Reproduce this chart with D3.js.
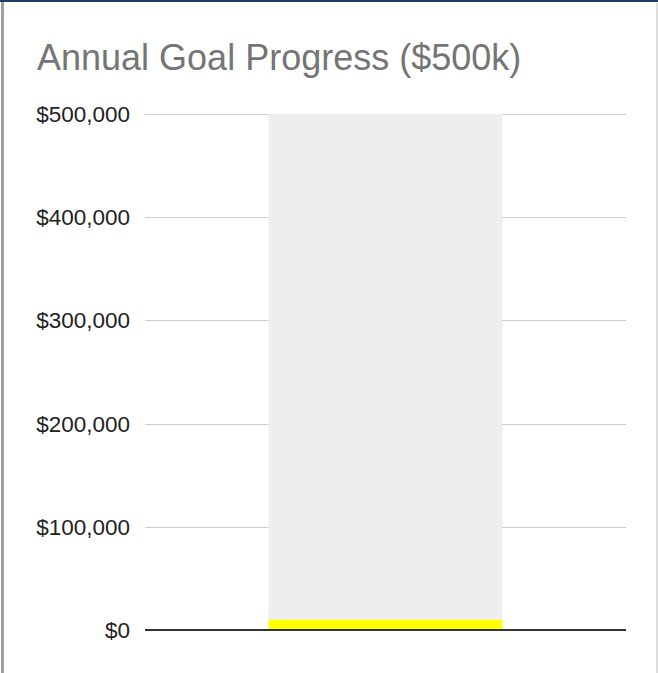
<!DOCTYPE html>
<html>
<head>
<meta charset="utf-8">
<script src="https://cdn.jsdelivr.net/npm/d3@7"></script>
<style>
  body { margin: 0; background: #fff; }
  svg { display: block; font-family: "Liberation Sans", Arial, sans-serif; }
</style>
</head>
<body>
<svg id="chart"></svg>
<script>
// Chart data
const categories = ["Annual Goal"];
const raisedValues = [10000];
const remainingValues = [490000];
const goal = 500000;
const tickValues = [0, 100000, 200000, 300000, 400000, 500000];

const width = 658, height = 673;
const margin = { top: 114, right: 32, bottom: 43, left: 145 };

const svg = d3.select("#chart").attr("width", width).attr("height", height);

// Frame borders
svg.append("rect").attr("x", 0).attr("y", 0).attr("width", width).attr("height", 2).attr("fill", "#1c3f63");
svg.append("rect").attr("x", 1).attr("y", 2).attr("width", 3).attr("height", height - 2).attr("fill", "#a0a0a0");
svg.append("rect").attr("x", 656).attr("y", 3).attr("width", 2).attr("height", height - 3).attr("fill", "#dddddd");

// Title
svg.append("text")
    .attr("x", 37)
    .attr("y", 70)
    .attr("font-size", "36px")
    .attr("fill", "#757575")
    .text("Annual Goal Progress ($500k)");

// Scales
const x = d3.scaleBand()
    .domain(categories)
    .range([margin.left, width - margin.right])
    .paddingInner(0)
    .paddingOuter(0.528);
const y = d3.scaleLinear().domain([0, goal]).range([height - margin.bottom, margin.top]);

// Gridlines
svg.append("g")
    .selectAll("line")
    .data(tickValues.filter((d) => d > 0))
    .enter()
    .append("line")
    .attr("x1", margin.left)
    .attr("x2", width - margin.right)
    .attr("y1", (d) => Math.round(y(d)) + 0.5)
    .attr("y2", (d) => Math.round(y(d)) + 0.5)
    .attr("stroke", "#cccccc");

// Y axis labels
const fmt = d3.format("$,.0f");
svg.append("g")
    .selectAll("text")
    .data(tickValues)
    .enter()
    .append("text")
    .attr("x", 130)
    .attr("y", (d) => y(d) + 8)
    .attr("text-anchor", "end")
    .attr("font-size", "22.5px")
    .attr("fill", "#222222")
    .text((d) => fmt(d));

// Stacked bars: raised (yellow) + remaining (light gray)
const stacked = categories.map((c, i) => ({ cat: c, raised: raisedValues[i], remaining: remainingValues[i] }));

svg.append("g")
    .selectAll("rect.remaining")
    .data(stacked)
    .enter()
    .append("rect")
    .attr("class", "remaining")
    .attr("x", (d) => x(d.cat))
    .attr("width", x.bandwidth())
    .attr("y", (d) => y(d.raised + d.remaining))
    .attr("height", (d) => y(d.raised) - y(d.raised + d.remaining))
    .attr("fill", "#eeeeee");

svg.append("g")
    .selectAll("rect.raised")
    .data(stacked)
    .enter()
    .append("rect")
    .attr("class", "raised")
    .attr("x", (d) => x(d.cat))
    .attr("width", x.bandwidth())
    .attr("y", (d) => y(d.raised))
    .attr("height", (d) => y(0) - y(d.raised) + 1)
    .attr("fill", "#ffff00");

// Baseline
svg.append("line")
    .attr("x1", margin.left)
    .attr("x2", width - margin.right)
    .attr("y1", y(0))
    .attr("y2", y(0))
    .attr("stroke", "#333333")
    .attr("stroke-width", 2);
</script>
</body>
</html>
